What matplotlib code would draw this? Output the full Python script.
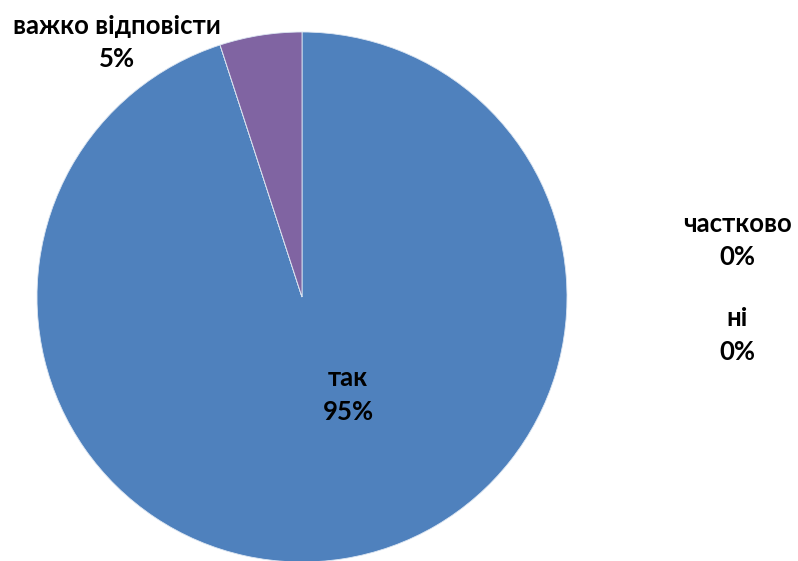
import matplotlib.pyplot as plt

categories = ['так', 'частково', 'ні', 'важко відповісти']
values = [95, 0, 0, 5]
colors = ['#4F81BD', '#C0504D', '#9BBB59', '#8064A2']

# label anchor points (pixels from top-left), Excel-style layout
label_pos = {
    'так': (348, 395),
    'частково': (737, 240),
    'ні': (737, 335),
    'важко відповісти': (117, 42),
}

W, H = 798, 561
fig = plt.figure(figsize=(W / 100, H / 100), dpi=100)
ax = fig.add_axes([0, 0, 1, 1])

ax.pie(values, colors=colors, startangle=90, counterclock=False,
       center=(302, H - 297), radius=265,
       wedgeprops=dict(edgecolor='#DCE6F2', linewidth=0.6))

ax.set_xlim(0, W)
ax.set_ylim(0, H)
ax.set_aspect('equal')
ax.axis('off')

for cat, val in zip(categories, values):
    px, py = label_pos[cat]
    ax.text(px, H - py, f"{cat}\n{val}%", ha='center', va='center',
            fontsize=18.5, fontweight='bold', linespacing=1.45,
            family=['Lato', 'DejaVu Sans'], color='black')

fig.savefig('out.png', dpi=100)
